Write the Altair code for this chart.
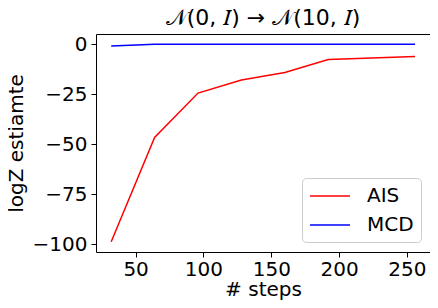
import altair as alt
import pandas as pd

steps = [32, 64, 96, 128, 160, 192, 256]
ais = [-98.8, -46.7, -24.5, -18.0, -14.2, -7.7, -6.3]
mcd = [-1.0, -0.1, -0.1, -0.1, -0.1, -0.1, -0.1]

rows = []
for s, a, m in zip(steps, ais, mcd):
    rows.append({"steps": s, "value": a, "method": "AIS"})
    rows.append({"steps": s, "value": m, "method": "MCD"})
df = pd.DataFrame(rows)

font = "DejaVu Sans"

chart = alt.Chart(df).mark_line(strokeWidth=1.5, clip=True).encode(
    x=alt.X("steps:Q", title="# steps",
            scale=alt.Scale(domain=[20.8, 267], nice=False, zero=False),
            axis=alt.Axis(values=[50, 100, 150, 200, 250], grid=False, labelFontSize=20,
                          titleFontSize=20, labelFont=font, titleFont=font, tickSize=5,
                          labelColor="black", titleColor="black", domain=False,
                          tickColor="black", titleFontWeight="normal", labelPadding=2, titlePadding=0)),
    y=alt.Y("value:Q", title="logZ estiamte",
            scale=alt.Scale(domain=[-103.9, 5], nice=False, zero=False),
            axis=alt.Axis(values=[0, -25, -50, -75, -100], grid=False, labelFontSize=20,
                          titleFontSize=20, labelFont=font, titleFont=font, tickSize=5,
                          labelColor="black", titleColor="black", domain=False,
                          tickColor="black", titleFontWeight="normal", labelPadding=4, titlePadding=6)),
    color=alt.Color("method:N",
                    scale=alt.Scale(domain=["AIS", "MCD"], range=["#ff0000", "#0000ff"]),
                    legend=alt.Legend(title=None, orient="none", legendX=206, legendY=144,
                                      symbolType="M-2,0H2", symbolSize=400, symbolStrokeWidth=1.5,
                                      labelFontSize=20, labelFont=font, labelColor="black",
                                      strokeColor="#cccccc", fillColor="white", padding=7,
                                      cornerRadius=4, rowPadding=8, labelOffset=26,
                                      symbolOffset=10)),
).properties(
    width=334, height=218,
    title=alt.TitleParams("𝒩(0, 𝐼) → 𝒩(10, 𝐼)", fontSize=22, font=font, fontWeight="normal",
                          color="black", offset=4),
    autosize=alt.AutoSizeParams(type="none"),
    padding={"left": 88, "top": 26, "right": 0, "bottom": 48},
).configure_view(stroke="black", strokeWidth=1)

chart.save("out.html", embed_options={"renderer": "svg", "actions": False})
